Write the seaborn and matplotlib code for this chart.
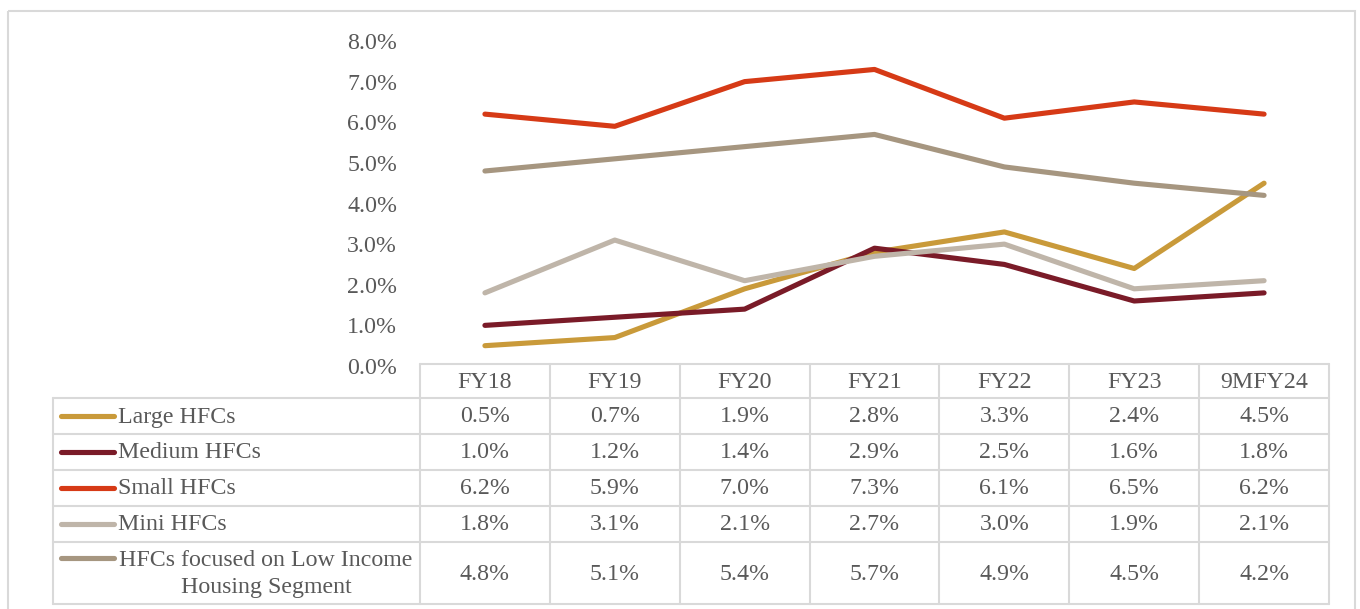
import matplotlib
matplotlib.use("Agg")
import matplotlib.pyplot as plt
import seaborn as sns
import pandas as pd
from matplotlib.patches import Rectangle

# Data
categories = ["FY18", "FY19", "FY20", "FY21", "FY22", "FY23", "9MFY24"]
large_hfcs = [0.5, 0.7, 1.9, 2.8, 3.3, 2.4, 4.5]
medium_hfcs = [1.0, 1.2, 1.4, 2.9, 2.5, 1.6, 1.8]
small_hfcs = [6.2, 5.9, 7.0, 7.3, 6.1, 6.5, 6.2]
mini_hfcs = [1.8, 3.1, 2.1, 2.7, 3.0, 1.9, 2.1]
low_income_hfcs = [4.8, 5.1, 5.4, 5.7, 4.9, 4.5, 4.2]

series_names = ["Large HFCs", "Medium HFCs", "Small HFCs", "Mini HFCs",
                "HFCs focused on Low Income\nHousing Segment"]
series_values = [large_hfcs, medium_hfcs, small_hfcs, mini_hfcs, low_income_hfcs]
colors = ["#C99A3A", "#7A1B28", "#D63A16", "#BFB5A9", "#A69680"]
y_ticks = [0, 1, 2, 3, 4, 5, 6, 7, 8]

sns.set_theme(style="white")
plt.rcParams["font.family"] = ["Liberation Serif", "DejaVu Serif"]

TEXT = "#595959"
GRID = "#D9D9D9"
W, H = 1360, 609
fig = plt.figure(figsize=(W / 100, H / 100), dpi=100)

# Chart area (pixel layout converted to figure fractions)
left_px, right_px, top_px, bottom_px = 420, 1329, 41, 366
ax = fig.add_axes([left_px / W, 1 - bottom_px / H,
                   (right_px - left_px) / W, (bottom_px - top_px) / H])

rows = []
for name, vals in zip(series_names, series_values):
    for i, v in enumerate(vals):
        rows.append({"series": name, "x": i, "value": v})
df = pd.DataFrame(rows)

sns.lineplot(data=df, x="x", y="value", hue="series", palette=colors,
             hue_order=series_names, linewidth=3.7, ax=ax, legend=False,
             solid_capstyle="round", solid_joinstyle="round")

fs = 17.2
ax.set_xlim(-0.5, len(categories) - 0.5)
ax.set_ylim(0, 8)
ax.set_yticks(y_ticks)
ax.set_yticklabels([f"{t:.1f}%" for t in y_ticks], fontsize=fs, color=TEXT)
ax.tick_params(axis="y", length=0, pad=16.5)
ax.set_xticks([])
ax.set_xlabel("")
ax.set_ylabel("")
for s in ax.spines.values():
    s.set_visible(False)
ax.patch.set_alpha(0)

# Data table drawn in pixel coordinates on an overlay
ov = fig.add_axes([0, 0, 1, 1], zorder=-1)
ov.set_xlim(0, W)
ov.set_ylim(H, 0)
ov.axis("off")
ov.patch.set_alpha(0)

# Outer frame
ov.add_patch(Rectangle((8, 11), 1347, 604, fill=False, edgecolor=GRID, lw=1.5))

col_edges = [420 + i * (right_px - left_px) / len(categories) for i in range(len(categories) + 1)]
row_edges = [364, 398, 434, 470, 506, 542, 604]
tab_left = 53
lw_grid = 1.5

# Horizontal lines
ov.plot([col_edges[0], col_edges[-1]], [row_edges[0]] * 2, color=GRID, lw=lw_grid)
for y in row_edges[1:]:
    ov.plot([tab_left, col_edges[-1]], [y, y], color=GRID, lw=lw_grid)
# Vertical lines
for x in col_edges:
    ov.plot([x, x], [row_edges[0], row_edges[-1]], color=GRID, lw=lw_grid)
ov.plot([tab_left, tab_left], [row_edges[1], row_edges[-1]], color=GRID, lw=lw_grid)

# Header
for j, c in enumerate(categories):
    cx = (col_edges[j] + col_edges[j + 1]) / 2
    ov.text(cx, (row_edges[0] + row_edges[1]) / 2 + 1, c, ha="center", va="center",
            fontsize=fs, color=TEXT)

# Body rows
for i, (name, vals, col) in enumerate(zip(series_names, series_values, colors)):
    y0, y1 = row_edges[i + 1], row_edges[i + 2]
    cy = (y0 + y1) / 2
    if "\n" in name:
        sy = y0 + 16
        ov.plot([61, 114], [sy, sy], color=col, lw=3.7, solid_capstyle="round")
        ov.text(266, cy + 1, name, ha="center", va="center", fontsize=fs,
                color=TEXT, multialignment="center", linespacing=1.4)
    else:
        ov.plot([61, 114], [cy, cy], color=col, lw=3.7, solid_capstyle="round")
        ov.text(118, cy + 1, name, ha="left", va="center", fontsize=fs, color=TEXT)
    for j, v in enumerate(vals):
        cx = (col_edges[j] + col_edges[j + 1]) / 2
        ov.text(cx, cy + 1, f"{v:.1f}%", ha="center", va="center", fontsize=fs, color=TEXT)

fig.savefig("out.png", dpi=100)
